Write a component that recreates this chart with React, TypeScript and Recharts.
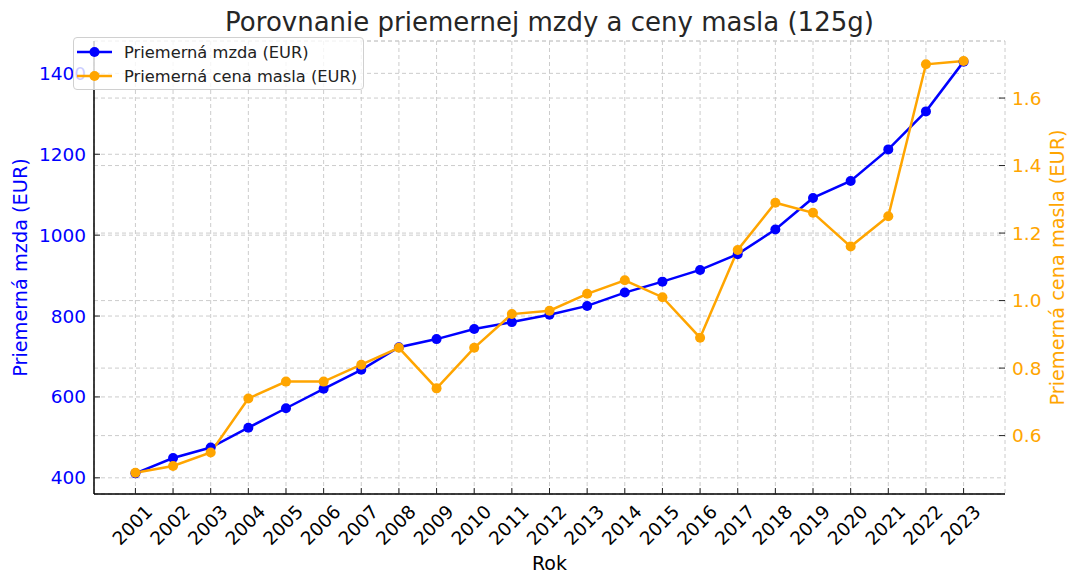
import React from "react";
import {
  LineChart,
  Line,
  CartesianGrid,
  XAxis,
  YAxis,
  Legend,
} from "recharts";

const years = [
  2001, 2002, 2003, 2004, 2005, 2006, 2007, 2008, 2009, 2010, 2011, 2012,
  2013, 2014, 2015, 2016, 2017, 2018, 2019, 2020, 2021, 2022, 2023,
];
const wage = [
  411, 449, 475, 524, 572, 620, 667, 723, 743, 768, 785, 803, 825, 858, 885,
  914, 953, 1014, 1092, 1134, 1212, 1306, 1429,
];
const butter = [
  0.49, 0.51, 0.55, 0.71, 0.76, 0.76, 0.81, 0.86, 0.74, 0.86, 0.96, 0.97,
  1.02, 1.06, 1.01, 0.89, 1.15, 1.29, 1.26, 1.16, 1.25, 1.7, 1.71,
];
const wageTicks = [400, 600, 800, 1000, 1200, 1400];
const butterTicks = [0.6, 0.8, 1.0, 1.2, 1.4, 1.6];

const BLUE = "#0000ff";
const ORANGE = "#ffa500";
const FONT = "DejaVu Sans, sans-serif";

const data = years.map((year, i) => ({
  year,
  wage: wage[i],
  butter: butter[i],
}));

const legendItems = [
  { name: "Priemerná mzda (EUR)", color: BLUE },
  { name: "Priemerná cena masla (EUR)", color: ORANGE },
];

function YearTick(props: any) {
  const { x, y, payload } = props;
  return (
    <text
      transform={`translate(${x - 3}, ${y + 31}) rotate(-45)`}
      textAnchor="middle"
      dominantBaseline="central"
      fontSize={18.5}
      fontFamily={FONT}
      fill="#000"
    >
      {payload.value}
    </text>
  );
}

function LegendBox() {
  return (
    <div
      style={{
        width: 291,
        height: 53,
        border: "1px solid #d0d0d0",
        borderRadius: 4,
        background: "rgba(255,255,255,0.8)",
        fontFamily: FONT,
        fontSize: 16.3,
        color: "#222",
        boxSizing: "border-box",
      }}
    >
      {legendItems.map((item, i) => (
        <div
          key={item.name}
          style={{
            position: "absolute",
            left: 4,
            top: 3 + i * 24,
            height: 24,
            display: "flex",
            alignItems: "center",
          }}
        >
          <svg width={36} height={14} style={{ marginRight: 11 }}>
            <line x1={0} y1={7} x2={35} y2={7} stroke={item.color} strokeWidth={2.5} />
            <circle cx={17.5} cy={7} r={5} fill={item.color} />
          </svg>
          <span>{item.name}</span>
        </div>
      ))}
    </div>
  );
}

export default function App() {
  return (
    <div style={{ position: "absolute", left: 0, top: 0, width: 1080, height: 587, background: "#fff" }}>
      <div
        style={{
          position: "absolute",
          left: 94,
          width: 911,
          top: 9,
          textAlign: "center",
          fontFamily: FONT,
          fontSize: 26,
          lineHeight: "26px",
          color: "#262626",
        }}
      >
        Porovnanie priemernej mzdy a ceny masla (125g)
      </div>
      <LineChart
        width={1080}
        height={587}
        data={data}
        margin={{ top: 41, right: 0, bottom: 0, left: 0 }}
      >
        <CartesianGrid yAxisId="left" stroke="#cccccc" strokeDasharray="4 3" />
        <CartesianGrid yAxisId="right" vertical={false} stroke="#cccccc" strokeDasharray="4 3" />
        <XAxis
          dataKey="year"
          type="number"
          domain={[1999.9, 2024.1]}
          ticks={years}
          interval={0}
          height={93}
          axisLine={{ stroke: "#000", strokeWidth: 1.5 }}
          tickLine={{ stroke: "#222" }}
          tickSize={-6}
          tickMargin={6}
          tick={<YearTick />}
          label={{
            content: (p: any) => (
              <text
                x={p.viewBox.x + p.viewBox.width / 2}
                y={p.viewBox.y + 76}
                textAnchor="middle"
                fontSize={19}
                fontFamily={FONT}
                fill="#000"
              >
                Rok
              </text>
            ),
          }}
        />
        <YAxis
          yAxisId="left"
          orientation="left"
          width={94}
          domain={[360, 1480]}
          ticks={wageTicks}
          interval={0}
          axisLine={{ stroke: "#000", strokeWidth: 1.5 }}
          tickLine={{ stroke: "#222" }}
          tickSize={-6}
          tickMargin={14}
          tick={{ fill: BLUE, fontSize: 18.5, fontFamily: FONT }}
          label={{
            content: (p: any) => {
              const cx = 20.5;
              const cy = p.viewBox.y + p.viewBox.height / 2;
              return (
                <text
                  transform={`translate(${cx}, ${cy}) rotate(-90)`}
                  textAnchor="middle"
                  dominantBaseline="central"
                  fontSize={19.3}
                  fontFamily={FONT}
                  fill={BLUE}
                >
                  Priemerná mzda (EUR)
                </text>
              );
            },
          }}
        />
        <YAxis
          yAxisId="right"
          orientation="right"
          width={75}
          domain={[0.427, 1.769]}
          ticks={butterTicks}
          interval={0}
          axisLine={false}
          tickLine={{ stroke: "#222" }}
          tickSize={-6}
          tickMargin={13}
          tickFormatter={(v: number) => v.toFixed(1)}
          tick={{ fill: ORANGE, fontSize: 18.5, fontFamily: FONT }}
          label={{
            content: (p: any) => {
              const cx = p.viewBox.x + 52;
              const cy = p.viewBox.y + p.viewBox.height / 2;
              return (
                <text
                  transform={`translate(${cx}, ${cy}) rotate(-90)`}
                  textAnchor="middle"
                  dominantBaseline="central"
                  fontSize={19.3}
                  fontFamily={FONT}
                  fill={ORANGE}
                >
                  Priemerná cena masla (EUR)
                </text>
              );
            },
          }}
        />
        <Line
          yAxisId="left"
          type="linear"
          dataKey="wage"
          name="Priemerná mzda (EUR)"
          stroke={BLUE}
          strokeWidth={2.5}
          dot={{ r: 5, fill: BLUE, stroke: BLUE, strokeWidth: 0 }}
          activeDot={false}
          isAnimationActive={false}
        />
        <Line
          yAxisId="right"
          type="linear"
          dataKey="butter"
          name="Priemerná cena masla (EUR)"
          stroke={ORANGE}
          strokeWidth={2.5}
          dot={{ r: 5, fill: ORANGE, stroke: ORANGE, strokeWidth: 0 }}
          activeDot={false}
          isAnimationActive={false}
        />
        <Legend
          layout="vertical"
          align="center"
          verticalAlign="middle"
          wrapperStyle={{ left: 73, top: 37, width: 291, height: 53 }}
          content={() => <LegendBox />}
        />
      </LineChart>
    </div>
  );
}
